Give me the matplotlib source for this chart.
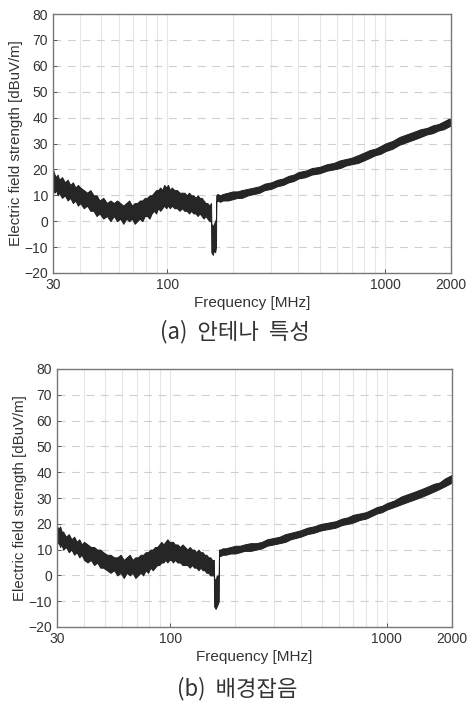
import numpy as np
import matplotlib
matplotlib.use('Agg')
import matplotlib.pyplot as plt
from matplotlib.ticker import FixedLocator, NullFormatter

plt.rcParams['font.family'] = ['Liberation Sans', 'DejaVu Sans']

# frequency points (MHz)
freq = [30, 30.5, 31, 31.5, 32, 33, 34, 35, 36, 37,
        38, 39, 40, 41.5, 43, 44.5, 46, 47.5, 49, 51,
        53, 55, 57, 59, 61, 63, 65, 67, 69, 71,
        73, 75, 77, 79, 81, 83, 85, 87, 89, 91,
        93, 95, 97, 99, 101, 103, 105, 108, 111, 114,
        117, 120, 123, 126, 129, 132, 135, 138, 141, 144,
        147, 150, 153, 156, 159, 159.5, 162, 164, 166, 167.5,
        168, 170, 175, 180, 190, 200, 210, 220, 235, 250,
        265, 280, 300, 320, 340, 360, 380, 400, 430, 460,
        500, 540, 580, 620, 660, 700, 750, 800, 850, 900,
        950, 1000, 1080, 1160, 1250, 1350, 1450, 1550, 1650, 1750,
        1850, 1950, 2000]

# (a) antenna characteristic: lower / upper edge of the noisy trace [dBuV/m]
ant_lo = [12, 11, 12, 10, 11, 9, 10, 8, 9, 7,
          8, 6, 7, 5, 6, 4, 4, 2, 3, 1,
          2, 0, 2, 0, 1, -1, 1, 0, 1, -1,
          0, 1, 0, 2, 2, 1, 3, 4, 3, 5,
          4, 5, 6, 5, 6, 5, 6, 5, 5, 4,
          5, 4, 4, 3, 4, 3, 3, 2, 3, 2,
          1, 2, 1, 0, 0, -12, -13, -11, -12, -10,
          7.5, 8, 7.5, 8, 8, 8.5, 9, 9, 10, 10.5,
          11, 12, 12.5, 13.5, 14, 15, 15.5, 16.5, 17, 18,
          18.5, 19.5, 20, 20.5, 21.5, 22, 22.5, 23.5, 24.5, 25.5,
          26, 27, 28, 29.5, 30.5, 31.5, 32.5, 33.5, 34, 35,
          35.5, 36.5, 37]
ant_hi = [20, 18, 17, 18, 16, 17, 15, 16, 14, 15,
          13, 14, 13, 12, 11, 12, 10, 10, 8, 9,
          7, 8, 7, 8, 7, 6, 7, 8, 6, 7,
          7, 8, 8, 9, 9, 10, 10, 11, 12, 12,
          13, 12, 14, 13, 14, 12, 13, 12, 12, 11,
          11, 11, 10, 11, 10, 10, 9, 10, 9, 9,
          8, 7, 7, 6, 7, -1, -2, -1, 0, 1,
          10, 10.5, 10, 10.5, 11, 11.5, 11.5, 12, 12.5, 13,
          13.5, 14.5, 15, 16, 16.5, 17.5, 18, 19, 19.5, 20.5,
          21, 22, 22.5, 23.5, 24, 24.5, 25.5, 26.5, 27.5, 28,
          29, 30, 31, 32.5, 33.5, 34.5, 35.5, 36, 37, 37.5,
          38.5, 39.5, 39.5]

# (b) background noise
bg_lo = [12, 13, 11, 12, 10, 11, 9, 10, 8, 9,
         7, 8, 6, 5, 6, 4, 5, 3, 3, 2,
         1, 2, 0, 1, -1, 1, 0, 1, -1, 0,
         1, 0, 2, 1, 3, 2, 3, 4, 4, 5,
         5, 6, 5, 6, 6, 5, 6, 5, 5, 4,
         4, 4, 3, 4, 3, 3, 2, 3, 2, 2,
         1, 1, 0, 0, 0, -12, -13, -12, -11, -10,
         7.5, 7.5, 8, 8, 8.5, 8.5, 9, 9.5, 9.5, 10,
         10.5, 11.5, 12, 12.5, 13, 14, 14.5, 15, 16, 16.5,
         17.5, 18, 18.5, 19.5, 20, 20.5, 21.5, 22, 23, 24,
         24.5, 25.5, 26.5, 27.5, 28.5, 29.5, 30.5, 31.5, 32.5, 33.5,
         34.5, 35.5, 36]
bg_hi = [19, 18, 19, 17, 17, 15, 16, 14, 15, 13,
         14, 12, 13, 12, 11, 11, 10, 10, 9, 8,
         8, 7, 7, 8, 6, 7, 8, 6, 7, 7,
         8, 8, 9, 9, 10, 10, 11, 11, 12, 13,
         12, 13, 14, 13, 13, 13, 12, 12, 11, 12,
         11, 10, 11, 10, 10, 9, 10, 9, 9, 8,
         8, 7, 7, 6, 6, -1, -2, 0, -1, 1,
         10, 10, 10.5, 10.5, 11, 11.5, 11.5, 12, 12.5, 12.5,
         13, 14, 14.5, 15, 16, 16.5, 17, 17.5, 18.5, 19,
         20, 20.5, 21, 22, 22.5, 23.5, 24, 24.5, 25.5, 26.5,
         27, 28, 29, 30.5, 31.5, 32.5, 33.5, 34.5, 35.5, 36,
         37.5, 38.5, 39]

x_ticks = [30, 100, 1000, 2000]
x_minor = [40, 50, 60, 70, 80, 90, 200, 300, 400, 500, 600, 700, 800, 900]
y_ticks = list(range(-20, 81, 10))
captions = ['(a)  안테나  특성', '(b)  배경잡음']

W, H = 468, 707
fig = plt.figure(figsize=(W / 100, H / 100), dpi=100)

# axes boxes in pixels: left, top, right, bottom
boxes = [(53, 14, 451, 273), (57, 369, 452, 627)]
cap_y = [332, 689]
cap_x = [235, 237]
series = [(ant_lo, ant_hi), (bg_lo, bg_hi)]

for (l, t, r, b), (lo, hi), cap, cy, cx in zip(boxes, series, captions, cap_y, cap_x):
    ax = fig.add_axes([l / W, 1 - b / H, (r - l) / W, (b - t) / H])
    ax.set_xscale('log')
    ax.set_xlim(30, 2000)
    ax.set_ylim(-20, 80)

    # grid: faint solid verticals, dashed horizontals
    for f in x_minor + [100, 1000]:
        ax.axvline(f, color='#e6e6e6', lw=0.8, zorder=0)
    for y in y_ticks[1:-1]:
        ax.axhline(y, color='#cfcfcf', lw=0.8, dashes=(7, 6), zorder=0)

    ax.fill_between(freq, lo, hi, color='#262626', lw=0.7, edgecolor='#1e1e1e', zorder=2)

    ax.xaxis.set_major_locator(FixedLocator(x_ticks))
    ax.set_xticklabels([str(v) for v in x_ticks])
    ax.xaxis.set_minor_locator(FixedLocator(x_minor))
    ax.xaxis.set_minor_formatter(NullFormatter())
    ax.set_yticks(y_ticks)
    ax.set_yticklabels([str(v).replace('-', '\u2212') for v in y_ticks])

    ax.tick_params(which='both', direction='in', length=3, width=0.7,
                   colors='#555555', labelcolor='#333333', labelsize=10)
    ax.tick_params(which='minor', length=0)
    for s in ax.spines.values():
        s.set_color('#777777')
        s.set_linewidth(1.0)

    ax.set_xlabel('Frequency [MHz]', fontsize=11, color='#333333', labelpad=3)
    ax.set_ylabel('Electric field strength [dBuV/m]', fontsize=10.8, color='#333333', labelpad=1)

    fig.text(cx / W, 1 - cy / H, cap, ha='center', va='center',
             fontsize=16, color='#333333',
             family=['Noto Sans CJK KR', 'DejaVu Sans'])

fig.savefig('out.png', dpi=100, facecolor='white')
